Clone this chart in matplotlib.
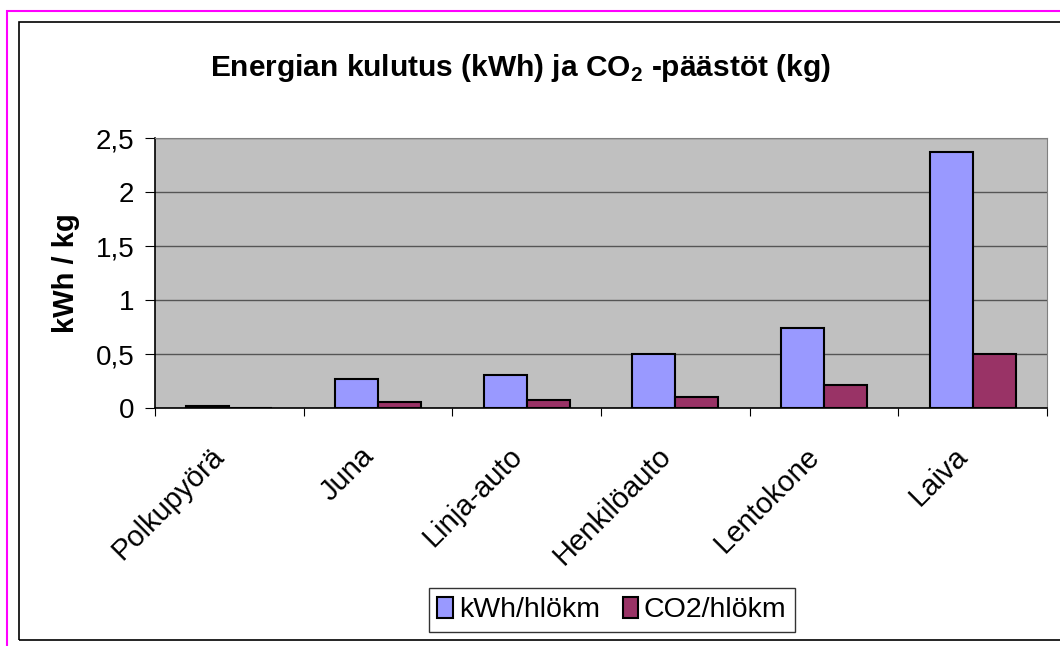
import matplotlib.pyplot as plt
import numpy as np
from matplotlib.patches import Rectangle
from matplotlib.transforms import offset_copy

plt.rcParams['font.family'] = ['Liberation Sans', 'DejaVu Sans']
plt.rcParams['mathtext.fontset'] = 'custom'
plt.rcParams['mathtext.rm'] = 'Liberation Sans'
plt.rcParams['mathtext.bf'] = 'Liberation Sans:bold'

# data
categories = ['Polkupyörä', 'Juna', 'Linja-auto', 'Henkilöauto', 'Lentokone', 'Laiva']
kwh = [0.015, 0.27, 0.31, 0.50, 0.74, 2.37]
co2 = [0.0, 0.055, 0.07, 0.10, 0.21, 0.50]
yticks = [0, 0.5, 1, 1.5, 2, 2.5]
ytick_labels = ['0', '0,5', '1', '1,5', '2', '2,5']

fig = plt.figure(figsize=(10.6, 6.46), dpi=100)

# outer pink frame and inner black frame (figure coords)
W, H = 1060, 646
fig.patches.append(Rectangle((7 / W, -0.01), 1.1, 1 - 11 / H + 0.01, transform=fig.transFigure,
                             fill=False, edgecolor='#FF00FF', linewidth=1.5))
fig.patches.append(Rectangle((19 / W, 1 - 640 / H), 1.1, (640 - 22) / H, transform=fig.transFigure,
                             fill=False, edgecolor='black', linewidth=1.2))

ax = fig.add_axes([155 / W, 1 - 408 / H, (1047 - 155) / W, (408 - 138) / H])
ax.set_facecolor('#C0C0C0')

x = np.arange(len(categories))
w = 0.29
ax.bar(x - w / 2, kwh, w, color='#9999FF', edgecolor='black', linewidth=1.5, label='kWh/hlökm', zorder=3)
ax.bar(x + w / 2, co2, w, color='#993366', edgecolor='black', linewidth=1.5, label='CO2/hlökm', zorder=3)

ax.set_xlim(-0.5, len(categories) - 0.5)
ax.set_ylim(0, 2.5)
ax.set_yticks(yticks)
ax.set_yticklabels(ytick_labels, fontsize=20)
ax.yaxis.grid(True, color='#555555', linewidth=1, zorder=0)
ax.set_axisbelow(True)

ax.set_xticks(np.arange(len(categories) + 1) - 0.5)
ax.set_xticklabels([])
ax.tick_params(axis='x', length=6, direction='out')
ax.tick_params(axis='y', length=7, direction='out', pad=8)

# rotated category labels
trans = offset_copy(ax.get_xaxis_transform(), fig=fig, x=-9, y=-44, units='dots')
for i, name in enumerate(categories):
    ax.text(x[i], 0, name, transform=trans, rotation=45, rotation_mode='anchor',
            ha='right', va='center', fontsize=21)

for s in ['top', 'right']:
    ax.spines[s].set_color('#808080')
for s in ['left', 'bottom']:
    ax.spines[s].set_color('black')
    ax.spines[s].set_linewidth(1.2)

ax.set_ylabel('kWh / kg', fontsize=21, fontweight='bold')
ax.yaxis.set_label_coords((80 - 155) / (1047 - 155), 0.5)

fig.text(520 / W, 1 - 68 / H, 'Energian kulutus (kWh) ja CO$_\\mathbf{2}$ -päästöt (kg)',
         ha='center', va='center', fontsize=21.5, fontweight='bold')

leg = fig.legend(loc='center', bbox_to_anchor=(612 / W, 1 - 610 / H), ncol=2, fontsize=20.5,
                 frameon=True, fancybox=False, edgecolor='black', handlelength=0.55, handleheight=0.8,
                 handletextpad=0.2, columnspacing=0.8, borderpad=0.3)
leg.get_frame().set_linewidth(1)

fig.savefig('out.png', dpi=100)
